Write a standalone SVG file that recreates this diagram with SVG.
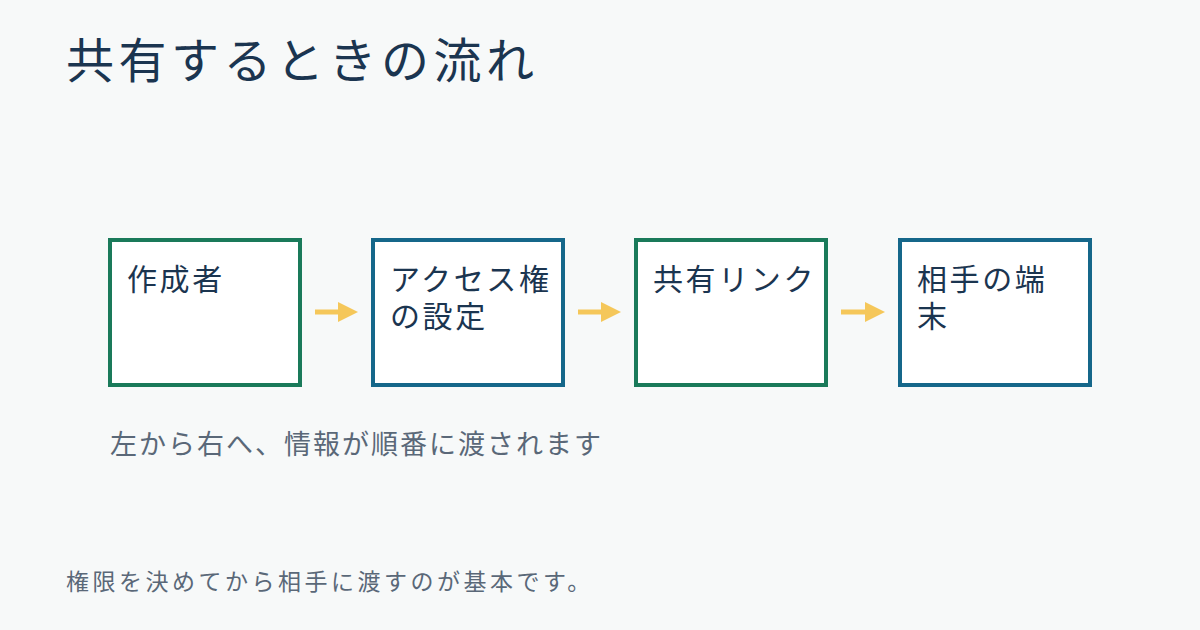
<svg xmlns="http://www.w3.org/2000/svg" width="1200" height="630" viewBox="0 0 1200 630">
<style>
text{font-family:"Noto Sans CJK JP","Noto Sans",sans-serif}
.t{fill:#1b3550;font-size:30px;letter-spacing:2.6px}
.bg{fill:#fff;stroke-width:4}
.g{stroke:#1a7a5a}.b{stroke:#15678a}
.c{stroke:#f5c75a;stroke-width:5;fill:none}
</style>
<defs><marker id="ah" markerWidth="4" markerHeight="4" refX="2" refY="2" orient="auto" markerUnits="strokeWidth"><path d="M0,0L4,2L0,4z" fill="#f5c75a"/></marker></defs>
<rect width="1200" height="630" fill="#f7f9f9"/>
<text x="66" y="78" font-size="48" letter-spacing="4.5" fill="#1b3550">共有するときの流れ</text>
<g id="connectors">
<line class="c" x1="315" y1="312" x2="348" y2="312" marker-end="url(#ah)"/>
<line class="c" x1="578" y1="312" x2="611" y2="312" marker-end="url(#ah)"/>
<line class="c" x1="841" y1="312" x2="875" y2="312" marker-end="url(#ah)"/>
</g>
<g id="n1"><rect class="bg g" x="110" y="240" width="190" height="145"/><text class="t" x="127" y="290">作成者</text></g>
<g id="n2"><rect class="bg b" x="373" y="240" width="190" height="145"/><text class="t" x="390" y="290">アクセス権</text><text class="t" x="390" y="327">の設定</text></g>
<g id="n3"><rect class="bg g" x="636" y="240" width="190" height="145"/><text class="t" x="653" y="290">共有リンク</text></g>
<g id="n4"><rect class="bg b" x="900" y="240" width="190" height="145"/><text class="t" x="917" y="290">相手の端</text><text class="t" x="917" y="327">末</text></g>
<text x="110" y="454" font-size="27" letter-spacing="2" fill="#5a6878">左から右へ、情報が順番に渡されます</text>
<text x="66" y="590" font-size="23" letter-spacing="3.5" fill="#5a6878">権限を決めてから相手に渡すのが基本です。</text>
</svg>
